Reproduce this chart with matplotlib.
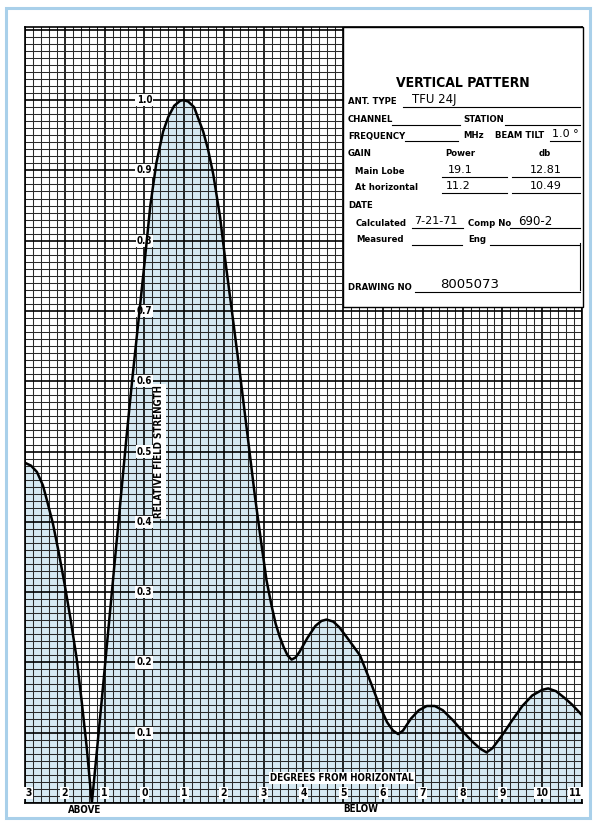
import matplotlib
matplotlib.use("Agg")
import matplotlib.pyplot as plt
import numpy as np
from matplotlib.patches import Rectangle
from matplotlib.lines import Line2D

# vertical pattern (degrees, negative = above horizontal)
angle = [-3.0, -2.85, -2.7, -2.55, -2.45, -2.3, -2.15, -2.0, -1.85, -1.7,
         -1.58, -1.45, -1.32, -1.2, -1.07, -0.9, -0.75, -0.6, -0.45, -0.3,
         -0.15, 0.0, 0.15, 0.3, 0.47, 0.6, 0.75, 0.9, 0.98, 1.1, 1.25, 1.48,
         1.6, 1.73, 1.9, 2.05, 2.2, 2.4, 2.6, 2.78, 2.95, 3.07, 3.2, 3.3, 3.4,
         3.5, 3.6, 3.7, 3.8, 3.9, 4.1, 4.3, 4.45, 4.58, 4.75, 4.9, 5.1, 5.42,
         5.7, 5.9, 6.1, 6.25, 6.38, 6.5, 6.7, 6.9, 7.1, 7.3, 7.5, 7.75, 8.0,
         8.25, 8.45, 8.6, 8.75, 9.0, 9.25, 9.5, 9.75, 10.0, 10.15, 10.35,
         10.55, 10.75, 11.0]
field = [0.484, 0.48, 0.471, 0.452, 0.431, 0.398, 0.356, 0.31, 0.26, 0.205,
         0.147, 0.08, 0.0, 0.07, 0.147, 0.25, 0.34, 0.43, 0.52, 0.605,
         0.685, 0.766, 0.85, 0.91, 0.955, 0.976, 0.992, 0.999, 1.0, 0.998,
         0.99, 0.955, 0.93, 0.895, 0.835, 0.765, 0.70, 0.612, 0.52, 0.436,
         0.365, 0.317, 0.28, 0.255, 0.237, 0.222, 0.21, 0.204, 0.207, 0.215,
         0.235, 0.252, 0.259, 0.261, 0.258, 0.25, 0.235, 0.21, 0.17, 0.14,
         0.115, 0.103, 0.098, 0.103, 0.12, 0.132, 0.138, 0.138, 0.132, 0.118,
         0.102, 0.087, 0.077, 0.072, 0.078, 0.097, 0.118, 0.138, 0.153,
         0.161, 0.163, 0.159, 0.15, 0.14, 0.125]

y_labels = ["1.0", "0.9", "0.8", "0.7", "0.6", "0.5", "0.4", "0.3", "0.2", "0.1"]
x_pos = list(range(-3, 12))
x_labels = [str(abs(d)) for d in x_pos]

W, H = 596, 821
fx = lambda x: x / W
fy = lambda y: 1 - y / H

bold = dict(family="DejaVu Sans", weight="bold", stretch="condensed")
hand = dict(family="DejaVu Sans", weight="normal")

fig = plt.figure(figsize=(W / 100, H / 100), dpi=100)
fig.patch.set_facecolor("white")
ax = fig.add_axes([fx(25), fy(803), (582 - 25) / W, (803 - 27) / H])
ax.set_xlim(-3, 11)
ax.set_ylim(0, 1.104)

ax.fill_between(angle, field, 0, color="#d6e9f2", lw=0, zorder=1)
ax.plot(angle, field, color="black", lw=1.8, zorder=4, solid_joinstyle="round")

# graph paper
ax.set_xticks(np.arange(-3, 11.01, 1))
ax.set_xticks(np.arange(-3, 11.01, 0.2), minor=True)
ax.set_yticks(np.arange(0, 1.101, 0.1))
ax.set_yticks(np.arange(0, 1.101, 0.01), minor=True)
ax.grid(which="major", color="black", lw=1.2)
ax.grid(which="minor", color="#2a2a2a", lw=0.75)
ax.tick_params(which="both", length=0, labelbottom=False, labelleft=False)
for s in ax.spines.values():
    s.set_linewidth(1.2)

box = dict(boxstyle="square,pad=0.12", fc="white", ec="none")
for i, lab in enumerate(y_labels):
    ax.text(0, 1.0 - 0.1 * i, lab, ha="center", va="center", fontsize=7,
            bbox=box, zorder=3, **bold)
for d, lab in zip(x_pos, x_labels):
    ha = "left" if d == -3 else ("right" if d == 11 else "center")
    ax.text(d, 0.014, lab, ha=ha, va="center", fontsize=7.5, bbox=box,
            zorder=3, **bold)
ax.text(0.38, 0.5, "RELATIVE FIELD STRENGTH", rotation=90, ha="center",
        va="center", fontsize=7, bbox=box, zorder=3, **bold)
ax.text(4.96, 0.036, "DEGREES FROM HORIZONTAL", ha="center", va="center",
        fontsize=7, bbox=box, zorder=3, **bold)
fig.text(fx(85), fy(810), "ABOVE", ha="center", va="center", fontsize=7, **bold)
fig.text(fx(361), fy(809), "BELOW", ha="center", va="center", fontsize=7, **bold)

# title block
fig.patches.append(Rectangle((fx(343), fy(307)), 240 / W, 280 / H,
                             transform=fig.transFigure, fc="white",
                             ec="black", lw=1.0, zorder=1))


def label(x, y, s, size=6.8, ha="left", style=bold):
    fig.text(fx(x), fy(y), s, ha=ha, va="center", fontsize=size, zorder=3, **style)


def uline(x0, x1, y):
    fig.lines.append(Line2D([fx(x0), fx(x1)], [fy(y), fy(y)], color="black",
                            lw=0.8, transform=fig.transFigure, zorder=3))


label(463, 83, "VERTICAL PATTERN", size=10, ha="center")
label(348, 102, "ANT. TYPE"); uline(403, 580, 107)
label(412, 100, "TFU 24J", size=8.5, style=hand)
label(348, 120, "CHANNEL"); uline(392, 460, 125)
label(463, 120, "STATION"); uline(505, 580, 125)
label(348, 136, "FREQUENCY"); uline(405, 458, 141)
label(463, 136, "MHz"); label(495, 136, "BEAM TILT"); uline(550, 580, 141)
label(552, 134, "1.0 °", size=8, style=hand)
label(348, 153, "GAIN"); label(460, 153, "Power", ha="center")
label(545, 153, "db", ha="center")
label(355, 172, "Main Lobe"); uline(442, 507, 177); uline(512, 580, 177)
label(448, 170, "19.1", size=8, style=hand)
label(530, 170, "12.81", size=8, style=hand)
label(355, 188, "At horizontal"); uline(442, 507, 193); uline(512, 580, 193)
label(446, 186, "11.2", size=8, style=hand)
label(530, 186, "10.49", size=8, style=hand)
label(348, 206, "DATE")
label(356, 223, "Calculated"); uline(412, 463, 228)
label(414, 221, "7-21-71", size=8, style=hand)
label(468, 223, "Comp No"); uline(510, 580, 228)
label(518, 221, "690-2", size=8.5, style=hand)
label(356, 240, "Measured"); uline(412, 462, 245)
label(468, 240, "Eng"); uline(490, 580, 245)
fig.lines.append(Line2D([fx(580), fx(580)], [fy(243), fy(290)], color="black",
                        lw=0.8, transform=fig.transFigure, zorder=3))
label(348, 287, "DRAWING NO"); uline(415, 580, 292)
label(440, 284, "8005073", size=9.5, style=hand)

# blue page frame
fig.patches.append(Rectangle((fx(6), fy(818)), 584 / W, 810 / H,
                             transform=fig.transFigure, fill=False,
                             ec="#a9d0ea", lw=2.2, zorder=0))

fig.savefig("out.png", dpi=100)
